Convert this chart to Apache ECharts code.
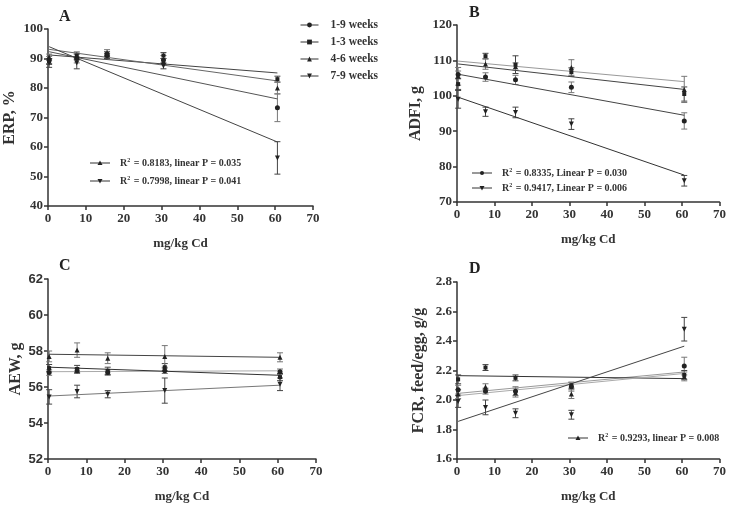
<!DOCTYPE html>
<html>
<head>
<meta charset="utf-8">
<script src="https://cdn.jsdelivr.net/npm/echarts@6/dist/echarts.min.js"></script>
<style>
  html, body { margin: 0; padding: 0; background: #fff; }
  #chart { width: 729px; height: 508px; }
</style>
</head>
<body>
<div id="chart"></div>
<script>
// doses on the x axis (mg/kg Cd)
const doses = [0.3, 7.6, 15.6, 30.5, 60.6]
const groups = ['1-9 weeks', '1-3 weeks', '4-6 weeks', '7-9 weeks']
const symbols = ['circle', 'rect', 'triangle', 'path://M0,0L10,0L5,9Z']

// A: ERP, %
const erp19 = [89.5, 90.0, 91.0, 89.5, 73.3]
const erp13 = [89.0, 91.0, 91.5, 91.0, 83.0]
const erp46 = [90.5, 90.5, 92.0, 89.0, 80.0]
const erp79 = [88.5, 88.5, 90.8, 87.5, 56.3]
const erp19Err = [1.2, 1.5, 0.8, 1.5, 4.7]
const erp13Err = [1.0, 1.2, 0.8, 1.0, 1.0]
const erp46Err = [1.0, 1.0, 1.0, 1.0, 2.0]
const erp79Err = [1.5, 2.0, 0.8, 1.0, 5.5]
const erpFit = [[92.3, 76.3], [91.2, 85.1], [93.1, 82.4], [94.0, 61.7]]

// B: ADFI, g
const adfi19 = [106.0, 105.3, 104.5, 102.4, 92.9]
const adfi13 = [103.3, 111.2, 108.8, 106.7, 100.5]
const adfi46 = [105.5, 109.0, 108.3, 108.0, 101.8]
const adfi79 = [99.0, 95.5, 95.3, 92.0, 76.0]
const adfi19Err = [1.0, 1.2, 1.3, 1.5, 2.3]
const adfi13Err = [1.5, 0.8, 2.5, 1.2, 2.0]
const adfi46Err = [2.5, 1.5, 1.0, 2.2, 3.7]
const adfi79Err = [2.5, 1.3, 1.5, 1.5, 1.5]
const adfiFit = [[106.1, 94.5], [109.0, 101.8], [109.8, 104.0], [99.6, 77.6]]

// C: AEW, g
const aew19 = [56.8, 56.9, 56.8, 56.9, 56.85]
const aew13 = [57.05, 57.0, 56.9, 57.1, 56.55]
const aew46 = [57.7, 58.05, 57.6, 57.7, 57.65]
const aew79 = [55.45, 55.75, 55.6, 55.8, 56.15]
const aew19Err = [0.15, 0.15, 0.15, 0.15, 0.15]
const aew13Err = [0.2, 0.2, 0.2, 0.2, 0.2]
const aew46Err = [0.3, 0.4, 0.3, 0.6, 0.25]
const aew79Err = [0.4, 0.35, 0.2, 0.7, 0.35]
const aewFit = [[56.85, 56.9], [57.1, 56.65], [57.82, 57.65], [55.5, 56.1]]

// D: FCR, feed/egg, g/g
const fcr19 = [2.07, 2.06, 2.06, 2.09, 2.23]
const fcr13 = [2.14, 2.22, 2.15, 2.10, 2.17]
const fcr46 = [2.04, 2.09, 2.05, 2.04, 2.16]
const fcr79 = [1.99, 1.95, 1.91, 1.90, 2.48]
const fcr19Err = [0.03, 0.02, 0.03, 0.03, 0.06]
const fcr13Err = [0.03, 0.02, 0.02, 0.02, 0.03]
const fcr46Err = [0.03, 0.02, 0.03, 0.03, 0.03]
const fcr79Err = [0.04, 0.05, 0.03, 0.03, 0.08]
const fcrFit = [[2.045, 2.19], [2.165, 2.145], [2.03, 2.18], [1.855, 2.365]]

const serif = 'Liberation Serif'
const fitColors = [
  ['#555', '#444', '#666', '#444'],
  ['#444', '#444', '#999', '#333'],
  ['#aaa', '#333', '#444', '#777'],
  ['#999', '#333', '#aaa', '#444']
]

const grids = [
  { left: 48, top: 29, width: 265, height: 177 },
  { left: 457, top: 25, width: 265, height: 177 },
  { left: 48, top: 279, width: 268, height: 180 },
  { left: 457, top: 282, width: 264, height: 177 }
]

function xAxis(i) {
  return {
    gridIndex: i, type: 'value', min: 0, max: 70, interval: 10,
    name: 'mg/kg Cd', nameLocation: 'middle', nameGap: 31,
    nameTextStyle: { fontFamily: serif, fontWeight: 'bold', fontSize: 13, color: '#333' },
    axisLine: { lineStyle: { color: '#333', width: 1.5 } },
    axisTick: { length: 4, lineStyle: { width: 1.5 } },
    axisLabel: { fontFamily: serif, fontWeight: 'bold', fontSize: 13, color: '#333', margin: 6 },
    splitLine: { show: false }
  }
}

function yAxis(i, name, min, max, interval, gap, fmt, font) {
  return {
    gridIndex: i, type: 'value', min: min, max: max, interval: interval,
    name: name, nameLocation: 'middle', nameGap: gap,
    nameTextStyle: { fontFamily: serif, fontWeight: 'bold', fontSize: 16, color: '#333' },
    axisLine: { show: true, lineStyle: { color: '#333', width: 1.5 } },
    axisTick: { show: true, length: 4, lineStyle: { width: 1.5 } },
    axisLabel: { fontFamily: font || serif, fontWeight: 'bold', fontSize: 13, color: '#333', margin: 5, formatter: fmt },
    splitLine: { show: false }
  }
}

function errorSeries(i, vals, errs, color) {
  return {
    type: 'custom', xAxisIndex: i, yAxisIndex: i, z: 2, silent: true,
    data: doses.map((d, k) => [d, vals[k], errs[k]]),
    renderItem(params, api) {
      const x = api.value(0)
      const y = api.value(1)
      const e = api.value(2)
      const hi = api.coord([x, y + e])
      const lo = api.coord([x, y - e])
      const style = { stroke: color, lineWidth: 1 }
      return {
        type: 'group',
        children: [
          { type: 'line', shape: { x1: hi[0], y1: hi[1], x2: lo[0], y2: lo[1] }, style },
          { type: 'line', shape: { x1: hi[0] - 3, y1: hi[1], x2: hi[0] + 3, y2: hi[1] }, style },
          { type: 'line', shape: { x1: lo[0] - 3, y1: lo[1], x2: lo[0] + 3, y2: lo[1] }, style }
        ]
      }
    }
  }
}

function panelSeries(i, sets, errSets, fits) {
  const out = []
  sets.forEach((vals, g) => {
    out.push({
      type: 'line', xAxisIndex: i, yAxisIndex: i, z: 4,
      data: [[doses[0], fits[g][0]], [doses[4], fits[g][1]]],
      showSymbol: false, silent: true,
      lineStyle: { color: fitColors[i][g], width: 1 }
    })
    out.push(errorSeries(i, vals, errSets[g], g % 2 ? '#444' : '#777'))
    out.push({
      name: groups[g], type: 'line', xAxisIndex: i, yAxisIndex: i, z: 5,
      data: doses.map((d, k) => [d, vals[k]]),
      symbol: symbols[g], symbolSize: g === 1 ? 4 : 5,
      itemStyle: { color: '#222' },
      lineStyle: { width: 0, opacity: 0 }
    })
  })
  return out
}

function r2Item(x, y, sym, value, p, word) {
  const icon = sym === 'circle'
    ? { type: 'circle', shape: { cx: x + 10, cy: y, r: 2 }, style: { fill: '#222' } }
    : sym === 'up'
      ? { type: 'polygon', shape: { points: [[x + 10, y - 2.5], [x + 12.5, y + 2], [x + 7.5, y + 2]] }, style: { fill: '#222' } }
      : { type: 'polygon', shape: { points: [[x + 10, y + 2.5], [x + 12.5, y - 2], [x + 7.5, y - 2]] }, style: { fill: '#222' } }
  return {
    type: 'group',
    children: [
      { type: 'line', shape: { x1: x, y1: y, x2: x + 20, y2: y }, style: { stroke: '#333', lineWidth: 1 } },
      icon,
      {
        type: 'text', x: x + 30, y: y,
        style: {
          text: '{n|R}{s|2}{n| = ' + value + ', ' + word + ' P = ' + p + '}',
          verticalAlign: 'middle',
          rich: {
            n: { fontFamily: serif, fontWeight: 'bold', fontSize: 10, fill: '#333' },
            s: { fontFamily: serif, fontWeight: 'bold', fontSize: 6, fill: '#333', padding: [0, 1, 6, 0] }
          }
        }
      }
    ]
  }
}

const titleStyle = { fontFamily: serif, fontWeight: 'bold', fontSize: 16, color: '#222' }

const option = {
  animation: false,
  backgroundColor: '#fff',
  title: [
    { text: 'A', left: 54, top: 4, textStyle: titleStyle },
    { text: 'B', left: 464, top: 0, textStyle: titleStyle },
    { text: 'C', left: 54, top: 253, textStyle: titleStyle },
    { text: 'D', left: 464, top: 256, textStyle: titleStyle }
  ],
  legend: {
    data: groups, orient: 'vertical', left: 295, top: 14,
    itemWidth: 18, itemHeight: 6, itemGap: 5,
    selectedMode: false,
    lineStyle: { color: '#333', width: 1, opacity: 1, type: 'solid' },
    itemStyle: { color: '#222' },
    textStyle: { fontFamily: serif, fontWeight: 'bold', fontSize: 11.5, color: '#333', lineHeight: 12, padding: [0, 0, 0, 7] }
  },
  grid: grids,
  xAxis: [xAxis(0), xAxis(1), xAxis(2), xAxis(3)],
  yAxis: [
    yAxis(0, 'ERP, %', 40, 100, 10, 30),
    yAxis(1, 'ADFI, g', 70, 120, 10, 33),
    yAxis(2, 'AEW, g', 52, 62, 2, 24, null, 'Liberation Sans'),
    yAxis(3, 'FCR, feed/egg, g/g', 1.6, 2.8, 0.2, 30, v => v.toFixed(1))
  ],
  series: [
    ...panelSeries(0, [erp19, erp13, erp46, erp79], [erp19Err, erp13Err, erp46Err, erp79Err], erpFit),
    ...panelSeries(1, [adfi19, adfi13, adfi46, adfi79], [adfi19Err, adfi13Err, adfi46Err, adfi79Err], adfiFit),
    ...panelSeries(2, [aew19, aew13, aew46, aew79], [aew19Err, aew13Err, aew46Err, aew79Err], aewFit),
    ...panelSeries(3, [fcr19, fcr13, fcr46, fcr79], [fcr19Err, fcr13Err, fcr46Err, fcr79Err], fcrFit)
  ],
  graphic: [
    r2Item(90, 163, 'up', '0.8183', '0.035', 'linear'),
    r2Item(90, 181, 'down', '0.7998', '0.041', 'linear'),
    r2Item(472, 173, 'circle', '0.8335', '0.030', 'Linear'),
    r2Item(472, 188, 'down', '0.9417', '0.006', 'Linear'),
    r2Item(568, 438, 'up', '0.9293', '0.008', 'linear')
  ]
}

const chart = echarts.init(document.getElementById('chart'))
chart.setOption(option)
</script>
</body>
</html>
